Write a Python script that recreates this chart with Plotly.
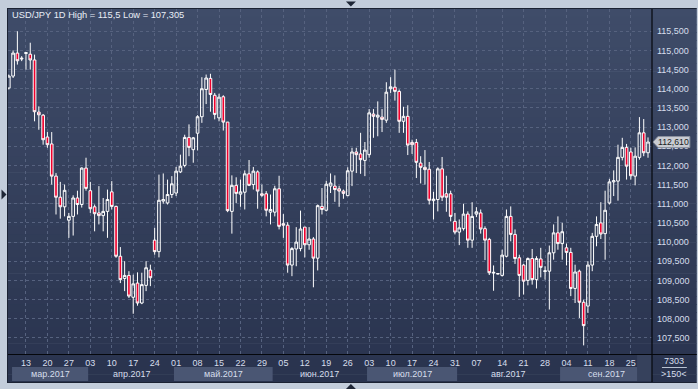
import plotly.graph_objects as go
import pandas as pd

# ---------------- data ----------------
# trading days (weekdays) 7 Mar - 29 Sep 2017 plus the short Sunday bar of 13 Aug
_days = [d.strftime("%Y-%m-%d") for d in pd.bdate_range("2017-03-07", "2017-09-29")]
_days.insert(_days.index("2017-08-14"), "2017-08-13")
dates = _days

opens = [
    114.02, 114.33, 114.93, 114.80, 114.92, 114.90, 114.75, 113.39, 113.31, 112.74,
    112.56, 111.72, 111.17, 110.92, 110.57, 110.67, 111.15, 110.98, 111.93, 111.34,
    110.92, 110.76, 110.69, 110.80, 111.31, 110.93, 109.63, 109.05, 109.13, 108.56,
    108.93, 108.41, 108.87, 109.27, 110.05, 109.75, 111.07, 111.02, 111.24, 111.28,
    111.83, 112.00, 112.73, 112.41, 112.84, 113.27, 113.98, 114.27, 113.83, 113.24,
    113.79, 113.13, 110.80, 111.48, 111.25, 111.30, 111.78, 111.50, 111.83, 111.26,
    111.26, 110.78, 110.78, 111.39, 110.48, 110.44, 109.40, 109.82, 109.83, 110.39,
    109.93, 110.08, 109.58, 110.93, 110.83, 111.46, 111.46, 111.39, 111.33, 111.21,
    111.85, 112.35, 112.30, 112.13, 112.28, 113.34, 113.26, 113.26, 113.18, 114.00,
    114.04, 113.93, 113.15, 113.28, 112.60, 112.60, 112.06, 111.95, 111.90, 111.08,
    111.11, 111.91, 111.26, 111.26, 110.54, 110.26, 110.35, 110.73, 110.05, 110.73,
    110.76, 110.35, 110.07, 109.19, 109.18, 109.13, 109.63, 110.67, 110.20, 109.59,
    109.40, 109.00, 109.57, 109.02, 109.56, 109.23, 109.24, 109.72, 110.24, 109.96,
    109.85, 109.73, 108.79, 109.24, 108.43, 108.33, 109.40, 110.15, 110.50, 110.22,
    111.02, 111.57, 111.59, 112.21, 112.47, 112.35, 111.72, 112.21, 112.85, 112.33,
]
highs = [
    114.37, 115.00, 115.50, 114.85, 114.95, 115.20, 114.89, 113.54, 113.34, 112.87,
    112.87, 111.80, 111.57, 111.50, 110.76, 111.22, 111.34, 111.95, 112.20, 111.57,
    110.98, 111.46, 111.15, 111.37, 111.59, 110.95, 109.87, 109.50, 109.24, 109.15,
    109.21, 109.20, 109.50, 109.41, 110.37, 111.76, 111.79, 111.63, 111.72, 111.96,
    112.28, 112.80, 113.07, 112.74, 113.31, 114.30, 114.37, 114.39, 113.89, 113.87,
    113.83, 113.13, 111.74, 111.69, 111.63, 111.87, 112.14, 111.96, 111.87, 111.50,
    111.33, 111.24, 111.47, 111.73, 110.73, 110.52, 109.87, 110.39, 110.82, 110.39,
    110.39, 110.13, 110.98, 111.41, 111.60, 111.79, 111.74, 111.47, 111.37, 111.95,
    112.46, 112.46, 112.85, 112.61, 113.47, 113.47, 113.67, 113.47, 114.17, 114.30,
    114.50, 113.98, 113.53, 113.57, 112.67, 112.69, 112.24, 112.40, 112.09, 111.31,
    111.95, 112.22, 111.73, 111.34, 110.76, 110.59, 111.00, 110.80, 111.04, 110.91,
    110.85, 110.41, 110.11, 109.39, 109.19, 109.80, 110.85, 110.93, 110.33, 109.67,
    109.43, 109.60, 109.82, 109.63, 109.85, 109.37, 109.91, 110.46, 110.67, 110.50,
    109.96, 109.85, 109.41, 109.28, 108.50, 109.50, 110.24, 110.67, 111.04, 111.34,
    111.65, 111.87, 112.54, 112.72, 112.56, 112.46, 112.47, 113.26, 113.21, 112.73,
]
lows = [
    113.98, 114.28, 114.63, 114.72, 114.50, 114.50, 113.15, 112.93, 112.54, 112.46,
    111.50, 110.72, 110.61, 110.67, 110.11, 110.17, 110.72, 110.90, 111.34, 110.76,
    110.28, 110.46, 110.28, 110.11, 110.85, 109.59, 108.93, 108.72, 108.54, 108.13,
    108.34, 108.38, 108.72, 108.85, 109.67, 109.60, 111.00, 110.98, 111.15, 111.20,
    111.80, 111.95, 112.24, 112.07, 112.39, 113.11, 113.60, 113.40, 113.20, 113.15,
    112.91, 110.78, 110.22, 111.02, 110.92, 110.85, 111.46, 111.37, 110.87, 111.18,
    110.67, 110.46, 110.67, 110.33, 110.11, 109.20, 109.11, 109.37, 109.76, 109.60,
    109.80, 108.82, 109.26, 110.72, 110.80, 111.28, 111.05, 110.92, 111.13, 111.20,
    111.46, 111.80, 111.78, 111.72, 112.20, 112.72, 112.76, 112.87, 113.11, 113.89,
    113.69, 112.85, 112.85, 112.27, 112.30, 111.67, 111.53, 111.50, 110.98, 110.59,
    110.80, 111.07, 110.79, 110.54, 110.20, 109.92, 110.30, 109.85, 109.85, 110.65,
    110.22, 109.53, 109.14, 108.73, 109.16, 109.10, 109.60, 110.02, 109.43, 108.57,
    108.63, 108.87, 108.89, 108.79, 109.08, 109.02, 108.24, 109.54, 109.80, 109.54,
    109.39, 108.59, 108.41, 108.02, 107.305, 108.15, 109.24, 109.89, 110.08, 109.54,
    110.98, 111.20, 111.08, 112.13, 111.63, 111.63, 111.48, 112.15, 112.24, 112.20,
]
closes = [
    114.33, 114.93, 114.73, 114.78, 114.94, 114.75, 113.40, 113.32, 112.67, 112.54,
    111.72, 111.17, 110.92, 111.35, 110.67, 111.15, 110.98, 111.93, 111.40, 110.87,
    110.74, 110.69, 110.80, 111.11, 110.93, 109.63, 109.02, 109.13, 108.59, 108.91,
    108.41, 108.89, 109.33, 109.07, 109.75, 111.09, 111.11, 111.24, 111.52, 111.85,
    111.98, 112.73, 112.47, 112.72, 113.27, 114.00, 114.28, 113.85, 113.33, 113.78,
    113.13, 110.82, 111.48, 111.27, 111.31, 111.78, 111.48, 111.85, 111.33, 111.22,
    110.83, 110.85, 111.39, 110.41, 110.44, 109.40, 109.83, 110.00, 110.34, 109.93,
    110.08, 109.58, 110.95, 110.85, 111.51, 111.54, 111.37, 111.33, 111.27, 111.86,
    112.35, 112.28, 112.15, 112.40, 113.37, 113.28, 113.31, 113.20, 113.91, 114.05,
    113.93, 113.15, 113.28, 112.53, 112.54, 112.08, 111.95, 111.89, 111.09, 111.12,
    111.91, 111.17, 111.17, 110.67, 110.26, 110.37, 110.73, 110.05, 110.67, 110.79,
    110.34, 110.05, 109.20, 109.21, 109.17, 109.66, 110.67, 110.20, 109.57, 109.13,
    108.98, 109.57, 109.02, 109.57, 109.34, 109.25, 109.72, 110.24, 109.96, 110.27,
    109.73, 108.79, 109.22, 108.43, 107.82, 109.40, 110.15, 110.46, 110.21, 110.83,
    111.57, 111.60, 112.21, 112.47, 111.98, 111.73, 112.24, 112.85, 112.33, 112.61,
]

week_ticks = [
    "2017-03-13", "2017-03-20", "2017-03-27", "2017-04-03", "2017-04-10", "2017-04-17",
    "2017-04-24", "2017-05-01", "2017-05-08", "2017-05-15", "2017-05-22", "2017-05-29",
    "2017-06-05", "2017-06-12", "2017-06-19", "2017-06-26", "2017-07-03", "2017-07-10",
    "2017-07-17", "2017-07-24", "2017-07-31", "2017-08-07", "2017-08-14", "2017-08-21",
    "2017-08-28", "2017-09-04", "2017-09-11", "2017-09-18", "2017-09-25",
]
week_labels = [
    "13", "20", "27", "03", "10", "17", "24", "01", "08", "15", "22", "29", "05", "12",
    "19", "26", "03", "10", "17", "24", "31", "07", "14", "21", "28", "04", "11", "18", "25",
]
month_keys = ["2017-03", "2017-04", "2017-05", "2017-06", "2017-07", "2017-08", "2017-09"]
month_labels = ["мар.2017", "апр.2017", "май.2017", "июн.2017", "июл.2017", "авг.2017", "сен.2017"]

price_ticks = [107.5, 108.0, 108.5, 109.0, 109.5, 110.0, 110.5, 111.0, 111.5,
               112.0, 112.5, 113.0, 113.5, 114.0, 114.5, 115.0, 115.5]
price_labels = ["107,500", "108,000", "108,500", "109,000", "109,500", "110,000",
                "110,500", "111,000", "111,500", "112,000", "112,500", "113,000",
                "113,500", "114,000", "114,500", "115,000", "115,500"]

title_text = "USD/JPY 1D High = 115,5 Low = 107,305"
last_price_text = "112,610"
counter_text = "7303"
zoom_text = ">150<"

# ---------------- geometry / style ----------------
W, H = 698, 389
ML, MR, MT, MB = 8, 43, 9, 35
PW, PH = W - ML - MR, H - MT - MB
X0, X1 = -0.19, 149.93
Y0, Y1 = 107.08, 116.08
FONT = "Liberation Sans"
TXT = "#d6deec"


def xp(px):
    return (px - ML) / PW


def yp(py):
    return (MT + PH - py) / PH


def price_py(p):
    return MT + (Y1 - p) / (Y1 - Y0) * PH


fig = go.Figure()
fig.add_trace(go.Candlestick(
    x=dates, open=opens, high=highs, low=lows, close=closes,
    increasing=dict(line=dict(color="#ffffff", width=1), fillcolor="rgba(0,0,0,0)"),
    decreasing=dict(line=dict(color="#ffffff", width=1), fillcolor="#f0002d"),
    whiskerwidth=0, hoverinfo="skip", showlegend=False,
))

shapes = []
# background gradient of chart + axis panes
N = 48
top_c, bot_c = (63, 76, 105), (41, 51, 78)
y_top, y_bot = 9, 382
for k in range(N):
    t = (k + 0.5) / N
    c = tuple(int(round(top_c[j] + (bot_c[j] - top_c[j]) * t)) for j in range(3))
    a = y_top + (y_bot - y_top) * k / N
    b = y_top + (y_bot - y_top) * (k + 1) / N + 0.6
    shapes.append(dict(type="rect", xref="paper", yref="paper", layer="below",
                       x0=xp(8), x1=xp(W + 2), y0=yp(min(b, y_bot)), y1=yp(a),
                       fillcolor="rgb(%d,%d,%d)" % c, line=dict(width=0)))

# month bands (alternate lighter)
for m, key in enumerate(month_keys):
    idx = [i for i, d in enumerate(dates) if d.startswith(key)]
    s, e = idx[0] - 0.5, idx[-1] + 0.5
    if m == 0:
        s = 0.75
    if m == len(month_keys) - 1:
        e = X1
    if m % 2 == 0:
        shapes.append(dict(type="rect", xref="x", yref="paper", layer="below",
                           x0=s, x1=e, y0=yp(381), y1=yp(367),
                           fillcolor="#4a5673", line=dict(width=0)))
# small box at the right end of the date pane
shapes.append(dict(type="rect", xref="paper", yref="paper", layer="below",
                   x0=xp(640), x1=xp(655), y0=yp(381), y1=yp(355),
                   fillcolor="#36415c", line=dict(width=0)))
# separators
shapes.append(dict(type="line", xref="paper", yref="paper", x0=xp(655), x1=xp(655),
                   y0=yp(382), y1=yp(9), line=dict(color="#05070c", width=1.2)))
shapes.append(dict(type="line", xref="paper", yref="paper", x0=xp(8), x1=xp(W + 2),
                   y0=yp(354.5), y1=yp(354.5), line=dict(color="#05070c", width=1.2)))
# dark outline of the whole chart panel
shapes.append(dict(type="line", xref="paper", yref="paper", x0=xp(7.5), x1=xp(7.5),
                   y0=yp(383), y1=yp(8), line=dict(color="#1b2233", width=1)))
shapes.append(dict(type="line", xref="paper", yref="paper", x0=xp(7.5), x1=xp(W + 2),
                   y0=yp(8.5), y1=yp(8.5), line=dict(color="#1b2233", width=1)))
shapes.append(dict(type="line", xref="paper", yref="paper", x0=xp(7.5), x1=xp(W + 2),
                   y0=yp(382.5), y1=yp(382.5), line=dict(color="#1b2233", width=1)))
# frame triangles
tri = "#1e2636"
shapes.append(dict(type="path", xref="paper", yref="paper", fillcolor=tri, line=dict(width=0),
                   path="M %f,%f L %f,%f L %f,%f Z" % (xp(347.5), yp(1.5), xp(357.5), yp(1.5), xp(352.5), yp(6.5))))
shapes.append(dict(type="path", xref="paper", yref="paper", fillcolor=tri, line=dict(width=0),
                   path="M %f,%f L %f,%f L %f,%f Z" % (xp(347.5), yp(389), xp(357.5), yp(389), xp(352.5), yp(384))))
shapes.append(dict(type="path", xref="paper", yref="paper", fillcolor=tri, line=dict(width=0),
                   path="M %f,%f L %f,%f L %f,%f Z" % (xp(1.5), yp(189.5), xp(1.5), yp(199.5), xp(6.5), yp(194.5))))
# line between counter texts
shapes.append(dict(type="line", xref="paper", yref="paper", x0=xp(665), x1=xp(690),
                   y0=yp(367.5), y1=yp(367.5), line=dict(color="#b9c2d2", width=1)))
# last-price tag
cy = price_py(closes[-1])
shapes.append(dict(type="path", xref="paper", yref="paper", fillcolor="#c9ccd3",
                   line=dict(color="#8c929e", width=1),
                   path="M %f,%f L %f,%f L %f,%f L %f,%f L %f,%f Z" % (
                       xp(656), yp(cy), xp(661), yp(cy - 5.5), xp(693), yp(cy - 5.5),
                       xp(693), yp(cy + 5.5), xp(661), yp(cy + 5.5))))

annotations = [
    dict(text=title_text, xref="paper", yref="paper", x=xp(10), y=yp(15),
         xanchor="left", yanchor="middle", showarrow=False,
         font=dict(family=FONT, size=9.3, color="#e9eef7")),
    dict(text=counter_text, xref="paper", yref="paper", x=xp(677), y=yp(361),
         xanchor="center", yanchor="middle", showarrow=False,
         font=dict(family=FONT, size=9, color=TXT)),
    dict(text=zoom_text, xref="paper", yref="paper", x=xp(677), y=yp(374),
         xanchor="center", yanchor="middle", showarrow=False,
         font=dict(family=FONT, size=9, color=TXT)),
    dict(text=last_price_text, xref="paper", yref="y", x=xp(677), y=closes[-1],
         xanchor="center", yanchor="middle", showarrow=False,
         font=dict(family=FONT, size=8.7, color="#1a1c22")),
]
for m, key in enumerate(month_keys):
    idx = [i for i, d in enumerate(dates) if d.startswith(key)]
    s, e = idx[0] - 0.5, idx[-1] + 0.5
    if m == 0:
        s = 0.75
    if m == len(month_keys) - 1:
        e = X1
    annotations.append(dict(text=month_labels[m], xref="x", yref="paper",
                            x=(s + e) / 2, y=yp(374), xanchor="center", yanchor="middle",
                            showarrow=False, font=dict(family=FONT, size=9, color=TXT)))

fig.update_layout(
    width=W, height=H,
    margin=dict(l=ML, r=MR, t=MT, b=MB, pad=0),
    paper_bgcolor="#c3cddb",
    plot_bgcolor="rgba(0,0,0,0)",
    showlegend=False,
    boxgap=0.12,
    shapes=shapes,
    annotations=annotations,
    hovermode=False,
    xaxis=dict(
        type="category", range=[X0, X1], rangeslider=dict(visible=False),
        tickmode="array", tickvals=week_ticks, ticktext=week_labels,
        showgrid=True, gridcolor="#56627f", griddash="3px,3px", gridwidth=1,
        ticks="", ticklabelstandoff=2,
        tickfont=dict(family=FONT, size=9, color=TXT),
        showline=False, zeroline=False, fixedrange=True,
    ),
    yaxis=dict(
        side="right", range=[Y0, Y1],
        tickmode="array", tickvals=price_ticks, ticktext=price_labels,
        showgrid=True, gridcolor="#56627f", griddash="3px,3px", gridwidth=1,
        ticks="", ticklabelstandoff=4,
        tickfont=dict(family=FONT, size=9, color=TXT),
        showline=False, zeroline=False, fixedrange=True,
    ),
)

fig.write_html(
    "out.html",
    config={"displayModeBar": False},
    post_script="document.body.style.margin='0';document.body.style.overflow='hidden';",
)
